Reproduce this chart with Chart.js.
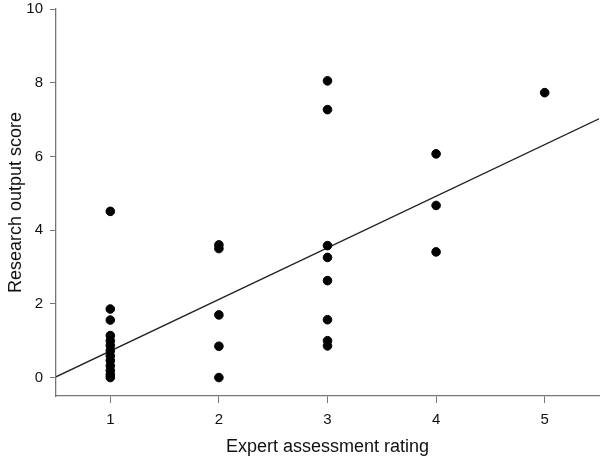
<!DOCTYPE html>
<html lang="en">
<head>
  <meta charset="UTF-8">
  <title>Research output vs expert rating</title>
  <script src="https://cdn.jsdelivr.net/npm/chart.js"></script>
  <style>
    html, body { margin: 0; padding: 0; background: #fff; overflow: hidden; }
    #wrap { width: 600px; height: 458px; }
  </style>
</head>
<body>
  <div id="wrap"><canvas id="scatter"></canvas></div>

  <script>
    // Ratings (x) and scores (y)
    const ratings = [1,1,1,1,1,1,1,1,1,1,1,1,1, 2,2,2,2,2, 3,3,3,3,3,3,3,3, 4,4,4, 5];
    const scores = [4.51, 1.86, 1.56, 1.14, 1.0, 0.87, 0.73, 0.59, 0.46, 0.32, 0.19, 0.08, 0.0,
                    3.6, 3.5, 1.70, 0.85, 0.0,
                    8.05, 7.27, 3.58, 3.26, 2.63, 1.57, 1.0, 0.86,
                    6.07, 4.67, 3.41,
                    7.73];

    // fitted line end points
    const fitX = [0.5, 5.5];
    const fitY = [0.02, 7.02];

    const xTicks = [1, 2, 3, 4, 5];
    const yTicks = [0, 2, 4, 6, 8, 10];

    const axisColor = '#777';
    const tickFont = { family: 'Liberation Sans, Arial, sans-serif', size: 15 };
    const titleFont = { family: 'Liberation Sans, Arial, sans-serif', size: 18 };

    const points = ratings.map((r, i) => ({ x: r, y: scores[i] }));
    const fit = fitX.map((v, i) => ({ x: v, y: fitY[i] }));

    new Chart(document.getElementById('scatter'), {
      type: 'scatter',
      data: {
        datasets: [{
          data: points,
          backgroundColor: '#000',
          borderColor: '#000',
          pointRadius: 4.3,
          pointHoverRadius: 4.3
        }, {
          data: fit,
          showLine: true,
          borderColor: '#222',
          borderWidth: 1.3,
          pointRadius: 0
        }]
      },
      options: {
        responsive: true,
        maintainAspectRatio: false,
        animation: false,
        layout: { autoPadding: false, padding: { top: 9, right: 1, left: 1, bottom: 0 } },
        plugins: { legend: { display: false }, tooltip: { enabled: false } },
        scales: {
          x: {
            type: 'linear',
            min: 0.5,
            max: 5.5,
            afterBuildTicks: axis => { axis.ticks = xTicks.map(v => ({ value: v })); },
            afterFit: axis => {
              axis.height = 62;
              axis.paddingLeft = 0;
              axis.paddingRight = 0;
            },
            grid: { drawOnChartArea: false, drawTicks: true, tickLength: 7, color: axisColor },
            border: { color: axisColor, width: 1.3 },
            ticks: { color: '#111', font: tickFont, padding: 8 },
            title: { display: true, text: 'Expert assessment rating', color: '#111', font: titleFont, padding: { top: 9, bottom: 0 } }
          },
          y: {
            type: 'linear',
            min: -0.5,
            max: 10,
            afterBuildTicks: axis => { axis.ticks = yTicks.map(v => ({ value: v })); },
            afterFit: axis => {
              axis.width = 55;
              axis.paddingTop = 0;
              axis.paddingBottom = 0;
            },
            grid: { drawOnChartArea: false, drawTicks: true, tickLength: 6, color: axisColor },
            border: { color: axisColor, width: 1.3 },
            ticks: { color: '#111', font: tickFont, padding: 7 },
            title: { display: true, text: 'Research output score', color: '#111', font: titleFont, padding: { bottom: 2 } }
          }
        }
      }
    });
  </script>
</body>
</html>
